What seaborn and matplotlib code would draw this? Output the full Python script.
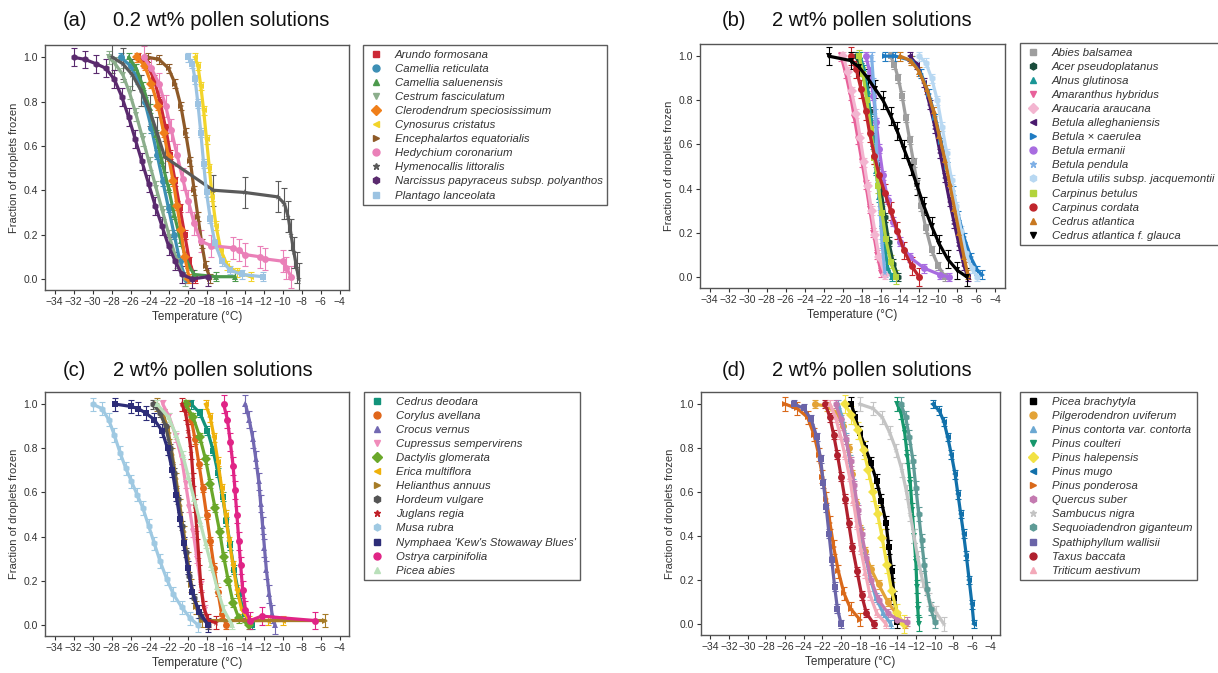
import pandas as pd
import matplotlib
matplotlib.use("Agg")
import matplotlib.pyplot as plt
from matplotlib.lines import Line2D
import seaborn as sns

# ---- panel (a): 0.2 wt% ----
a_names = ["Arundo formosana", "Camellia reticulata", "Camellia saluenensis",
           "Cestrum fasciculatum", "Clerodendrum speciosissimum", "Cynosurus cristatus",
           "Encephalartos equatorialis", "Hedychium coronarium", "Hymenocallis littoralis",
           "Narcissus papyraceus subsp. polyanthos", "Plantago lanceolata"]
a_temps = [
    [-25.2, -24.3, -23.5, -22.9, -22.3, -21.8, -21.3, -20.8, -20.3, -19.8, -19.2],
    [-27.0, -26.0, -25.2, -24.5, -23.8, -23.2, -22.6, -22.0, -21.4, -20.8, -20.2],
    [-26.2, -25.4, -24.7, -24.0, -23.3, -22.7, -22.0, -21.4, -20.7, -20.0, -19.3, -17.0, -15.0],
    [-28.3, -27.6, -26.8, -26.1, -25.4, -24.7, -24.0, -23.3, -22.6, -21.9, -21.1, -20.3],
    [-25.3, -24.5, -23.8, -23.1, -22.5, -22.0, -21.5, -21.1, -20.7, -20.3, -19.8],
    [-19.2, -18.9, -18.6, -18.3, -18.0, -17.7, -17.4, -17.0, -16.5, -15.8, -14.8, -13.3],
    [-24.2, -23.0, -22.0, -21.3, -20.7, -20.2, -19.7, -19.3, -18.9, -18.5, -18.1, -17.6],
    [-24.6, -23.8, -23.0, -22.3, -21.7, -21.1, -20.5, -19.9, -19.3, -18.6, -17.5, -15.2,
     -14.6, -14.0, -12.4, -11.8, -10.0, -9.6, -9.1],
    [-27.9, -26.8, -25.8, -24.9, -24.0, -23.2, -22.4, -17.3, -14.0, -10.5, -9.8, -9.4,
     -9.1, -8.8, -8.5, -8.3],
    [-32.0, -30.8, -29.6, -28.6, -27.7, -26.9, -26.2, -25.5, -24.8, -24.1, -23.4, -22.7,
     -22.0, -21.3, -20.6, -19.5, -17.8],
    [-19.9, -19.5, -19.2, -18.9, -18.6, -18.3, -18.0, -17.6, -17.1, -16.4, -15.5, -14.3, -12.1],
]
a_fracs = [
    [1.0, 0.97, 0.9, 0.8, 0.68, 0.56, 0.44, 0.32, 0.2, 0.08, 0.0],
    [1.0, 0.96, 0.9, 0.8, 0.68, 0.56, 0.44, 0.32, 0.2, 0.08, 0.0],
    [1.0, 0.95, 0.87, 0.77, 0.65, 0.53, 0.41, 0.29, 0.17, 0.07, 0.02, 0.01, 0.01],
    [1.0, 0.97, 0.92, 0.84, 0.74, 0.63, 0.52, 0.41, 0.3, 0.19, 0.08, 0.0],
    [1.0, 0.96, 0.88, 0.78, 0.66, 0.55, 0.44, 0.33, 0.22, 0.1, 0.0],
    [1.0, 0.96, 0.87, 0.76, 0.63, 0.5, 0.37, 0.24, 0.13, 0.06, 0.03, 0.01],
    [1.0, 0.99, 0.95, 0.88, 0.78, 0.66, 0.53, 0.4, 0.28, 0.16, 0.06, 0.0],
    [1.0, 0.95, 0.88, 0.78, 0.67, 0.56, 0.45, 0.35, 0.25, 0.17, 0.15, 0.14, 0.13, 0.11,
     0.1, 0.09, 0.08, 0.05, 0.01],
    [1.0, 0.97, 0.92, 0.85, 0.76, 0.66, 0.55, 0.4, 0.39, 0.37, 0.34, 0.28, 0.2, 0.12, 0.05, 0.0],
    [1.0, 0.99, 0.97, 0.95, 0.9, 0.82, 0.73, 0.63, 0.53, 0.43, 0.33, 0.24, 0.15, 0.08,
     0.02, 0.0, 0.01],
    [1.0, 0.97, 0.9, 0.79, 0.66, 0.52, 0.39, 0.27, 0.16, 0.08, 0.04, 0.02, 0.01],
]
a_err = [0.02, 0.02, 0.02, 0.03, 0.02, 0.02, 0.02, 0.05, 0.07, 0.04, 0.02]

# ---- panel (b): 2 wt% ----
b_names = ["Abies balsamea", "Acer pseudoplatanus", "Alnus glutinosa", "Amaranthus hybridus",
           "Araucaria araucana", "Betula alleghaniensis", "Betula × caerulea", "Betula ermanii",
           "Betula pendula", "Betula utilis subsp. jacquemontii", "Carpinus betulus",
           "Carpinus cordata", "Cedrus atlantica", "Cedrus atlantica f. glauca"]
b_temps = [
    [-15.0, -14.6, -14.2, -13.8, -13.4, -13.0, -12.6, -12.2, -11.8, -11.3, -10.7, -10.0, -9.3],
    [-18.6, -18.1, -17.6, -17.2, -16.8, -16.4, -16.0, -15.6, -15.2, -14.7, -14.2],
    [-18.2, -17.8, -17.4, -17.1, -16.8, -16.5, -16.2, -15.9, -15.6, -15.3, -14.9],
    [-20.2, -19.7, -19.2, -18.8, -18.4, -18.0, -17.6, -17.2, -16.8, -16.4, -16.0],
    [-20.0, -19.5, -19.1, -18.6, -18.2, -17.8, -17.4, -17.0, -16.6, -16.2, -15.6],
    [-13.0, -12.2, -11.5, -10.9, -10.3, -9.8, -9.3, -8.8, -8.3, -7.8, -7.3, -6.9],
    [-15.6, -14.5, -12.8, -11.8, -11.0, -10.3, -9.7, -9.1, -8.5, -7.9, -7.3, -6.6, -5.9, -5.4],
    [-17.6, -17.2, -16.8, -16.5, -16.2, -15.8, -15.3, -14.7, -14.0, -13.0, -11.5, -9.8, -8.9],
    [-17.0, -16.8, -16.6, -16.5, -16.3, -16.1, -15.9, -15.6],
    [-12.0, -11.3, -10.7, -10.1, -9.6, -9.1, -8.6, -8.1, -7.6, -7.1, -6.5, -5.9],
    [-18.3, -17.9, -17.5, -17.1, -16.7, -16.3, -15.9, -15.5, -15.0, -14.4],
    [-19.2, -18.6, -18.1, -17.6, -17.2, -16.7, -16.2, -15.6, -15.0, -14.3, -13.6, -12.8, -12.0],
    [-14.0, -12.9, -12.0, -11.2, -10.5, -9.9, -9.3, -8.8, -8.3, -7.8, -7.3, -6.9],
    [-21.5, -19.2, -18.3, -17.4, -16.6, -15.8, -15.0, -14.3, -13.6, -12.9, -12.2, -11.5,
     -10.7, -9.9, -9.0, -8.0, -7.0],
]
b_fracs = [
    [1.0, 0.96, 0.9, 0.82, 0.72, 0.62, 0.52, 0.42, 0.32, 0.22, 0.12, 0.05, 0.0],
    [1.0, 0.95, 0.86, 0.75, 0.63, 0.51, 0.39, 0.27, 0.16, 0.06, 0.0],
    [1.0, 0.94, 0.84, 0.72, 0.6, 0.48, 0.36, 0.24, 0.13, 0.04, 0.0],
    [1.0, 0.92, 0.82, 0.72, 0.62, 0.52, 0.42, 0.31, 0.2, 0.1, 0.02],
    [1.0, 0.93, 0.84, 0.74, 0.63, 0.52, 0.41, 0.3, 0.19, 0.09, 0.01],
    [1.0, 0.96, 0.88, 0.78, 0.67, 0.56, 0.45, 0.34, 0.24, 0.14, 0.05, 0.0],
    [1.0, 1.0, 0.98, 0.92, 0.83, 0.72, 0.61, 0.5, 0.39, 0.28, 0.18, 0.09, 0.03, 0.01],
    [1.0, 0.93, 0.82, 0.7, 0.58, 0.46, 0.35, 0.25, 0.16, 0.09, 0.04, 0.01, 0.0],
    [1.0, 0.88, 0.74, 0.6, 0.45, 0.3, 0.15, 0.02],
    [1.0, 0.97, 0.9, 0.8, 0.68, 0.56, 0.44, 0.32, 0.21, 0.11, 0.04, 0.0],
    [1.0, 0.92, 0.8, 0.67, 0.54, 0.41, 0.29, 0.17, 0.07, 0.0],
    [1.0, 0.94, 0.85, 0.75, 0.65, 0.55, 0.46, 0.38, 0.3, 0.21, 0.12, 0.05, 0.0],
    [1.0, 0.98, 0.93, 0.85, 0.75, 0.64, 0.53, 0.42, 0.31, 0.2, 0.09, 0.01],
    [1.0, 0.98, 0.95, 0.9, 0.85, 0.8, 0.73, 0.66, 0.58, 0.5, 0.41, 0.32, 0.23, 0.15, 0.08,
     0.03, 0.0],
]
b_err = [0.02, 0.02, 0.02, 0.02, 0.02, 0.02, 0.02, 0.02, 0.02, 0.02, 0.03, 0.04, 0.02, 0.04]

# ---- panel (c): 2 wt% ----
c_names = ["Cedrus deodara", "Corylus avellana", "Crocus vernus", "Cupressus sempervirens",
           "Dactylis glomerata", "Erica multiflora", "Helianthus annuus", "Hordeum vulgare",
           "Juglans regia", "Musa rubra", "Nymphaea 'Kew's Stowaway Blues'",
           "Ostrya carpinifolia", "Picea abies"]
c_temps = [
    [-19.6, -18.7, -17.9, -17.3, -16.8, -16.3, -15.9, -15.5, -15.1, -14.6, -14.0, -13.2],
    [-20.1, -19.6, -19.2, -18.8, -18.4, -18.0, -17.6, -17.2, -16.8, -16.4, -15.9],
    [-13.9, -13.5, -13.1, -12.8, -12.5, -12.3, -12.1, -11.9, -11.7, -11.4, -11.1, -10.8],
    [-22.6, -21.9, -21.2, -20.6, -20.2, -19.8, -19.4, -19.0, -18.6, -18.2, -17.7],
    [-20.2, -19.4, -18.7, -18.1, -17.6, -17.1, -16.6, -16.2, -15.7, -15.2, -14.6, -13.5],
    [-18.1, -17.6, -17.2, -16.8, -16.4, -16.0, -15.6, -15.2, -14.8, -14.3, -13.5, -11.5, -10.0],
    [-23.2, -22.5, -22.0, -21.6, -21.2, -20.8, -20.4, -20.0, -19.6, -19.1, -18.5, -5.5],
    [-23.6, -22.9, -22.3, -21.8, -21.4, -21.0, -20.6, -20.2, -19.8, -19.3, -18.6, -17.8],
    [-20.6, -20.2, -19.9, -19.6, -19.4, -19.2, -19.0, -18.8, -18.6, -18.3, -17.8, -17.0],
    [-30.0, -29.0, -28.3, -27.7, -27.1, -26.5, -25.9, -25.3, -24.7, -24.1, -23.5, -22.9,
     -22.2, -21.5, -20.6, -19.7, -18.9],
    [-27.6, -26.0, -25.2, -24.4, -23.5, -22.7, -22.1, -21.6, -21.2, -20.8, -20.4, -20.0,
     -19.5, -18.8, -17.8],
    [-16.2, -15.8, -15.5, -15.2, -15.0, -14.8, -14.6, -14.4, -14.2, -13.9, -13.4, -12.2, -6.6],
    [-23.2, -22.0, -21.2, -20.5, -19.9, -19.3, -18.7, -18.1, -17.5, -16.9, -16.2, -15.3],
]
c_fracs = [
    [1.0, 0.96, 0.88, 0.79, 0.69, 0.58, 0.47, 0.36, 0.25, 0.14, 0.05, 0.0],
    [1.0, 0.93, 0.84, 0.73, 0.62, 0.5, 0.38, 0.26, 0.15, 0.05, 0.0],
    [1.0, 0.93, 0.84, 0.75, 0.65, 0.55, 0.45, 0.35, 0.25, 0.14, 0.05, 0.0],
    [1.0, 0.94, 0.85, 0.75, 0.64, 0.53, 0.42, 0.3, 0.18, 0.07, 0.0],
    [1.0, 0.94, 0.85, 0.75, 0.64, 0.53, 0.42, 0.31, 0.2, 0.1, 0.03, 0.0],
    [1.0, 0.94, 0.85, 0.74, 0.62, 0.5, 0.38, 0.27, 0.16, 0.07, 0.02, 0.02, 0.02],
    [1.0, 0.95, 0.87, 0.77, 0.66, 0.54, 0.42, 0.3, 0.18, 0.08, 0.02, 0.02],
    [1.0, 0.96, 0.9, 0.8, 0.69, 0.57, 0.45, 0.33, 0.22, 0.12, 0.04, 0.0],
    [1.0, 0.96, 0.88, 0.78, 0.66, 0.54, 0.42, 0.3, 0.18, 0.08, 0.02, 0.01],
    [1.0, 0.98, 0.93, 0.86, 0.78, 0.71, 0.65, 0.59, 0.53, 0.45, 0.37, 0.29, 0.21, 0.14,
     0.08, 0.03, 0.0],
    [1.0, 0.99, 0.98, 0.96, 0.93, 0.88, 0.8, 0.7, 0.59, 0.48, 0.37, 0.26, 0.15, 0.06, 0.0],
    [1.0, 0.93, 0.83, 0.72, 0.61, 0.5, 0.38, 0.27, 0.16, 0.07, 0.02, 0.04, 0.02],
    [1.0, 0.94, 0.86, 0.77, 0.67, 0.57, 0.47, 0.37, 0.27, 0.17, 0.07, 0.0],
]
c_err = [0.02, 0.02, 0.04, 0.02, 0.02, 0.02, 0.03, 0.02, 0.03, 0.03, 0.03, 0.04, 0.02]

# ---- panel (d): 2 wt% ----
d_names = ["Picea brachytyla", "Pilgerodendron uviferum", "Pinus contorta var. contorta",
           "Pinus coulteri", "Pinus halepensis", "Pinus mugo", "Pinus ponderosa",
           "Quercus suber", "Sambucus nigra", "Sequoiadendron giganteum",
           "Spathiphyllum wallisii", "Taxus baccata", "Triticum aestivum"]
d_temps = [
    [-18.9, -18.5, -18.0, -17.4, -16.8, -16.2, -15.7, -15.2, -14.9, -14.6, -14.3, -14.0],
    [-22.8, -21.5, -20.5, -19.8, -19.2, -18.8, -18.4, -18.0, -17.5, -16.8, -16.0, -15.0,
     -14.0, -13.2],
    [-20.3, -19.9, -19.5, -19.1, -18.7, -18.3, -17.9, -17.4, -16.9, -16.3, -15.5, -14.7],
    [-14.0, -13.6, -13.2, -12.9, -12.6, -12.4, -12.2, -12.0, -11.9, -11.8, -11.7],
    [-19.6, -18.9, -18.2, -17.6, -17.1, -16.6, -16.1, -15.6, -15.1, -14.6, -14.0, -13.3],
    [-10.2, -9.5, -9.0, -8.6, -8.2, -7.8, -7.5, -7.2, -6.9, -6.6, -6.3, -6.0, -5.8],
    [-26.0, -24.7, -23.6, -22.9, -22.4, -22.0, -21.6, -21.2, -20.8, -20.3, -19.7, -19.0, -18.0],
    [-20.6, -20.0, -19.5, -19.0, -18.6, -18.2, -17.8, -17.3, -16.8, -16.0, -15.0, -14.0, -13.0],
    [-18.0, -16.6, -15.6, -14.8, -14.1, -13.5, -13.0, -12.6, -12.2, -11.8, -11.3, -10.6,
     -9.8, -9.0],
    [-13.6, -13.1, -12.7, -12.3, -12.0, -11.7, -11.4, -11.1, -10.8, -10.4, -10.0],
    [-25.0, -24.0, -23.2, -22.6, -22.2, -21.9, -21.6, -21.3, -21.0, -20.7, -20.4, -20.0],
    [-21.7, -21.2, -20.8, -20.4, -20.0, -19.6, -19.2, -18.8, -18.3, -17.8, -17.3, -16.5],
    [-21.2, -20.6, -20.1, -19.6, -19.1, -18.7, -18.3, -17.9, -17.4, -16.9, -16.2, -15.2],
]
d_fracs = [
    [1.0, 0.94, 0.87, 0.8, 0.73, 0.65, 0.56, 0.46, 0.35, 0.24, 0.12, 0.01],
    [1.0, 0.99, 0.96, 0.9, 0.8, 0.68, 0.55, 0.43, 0.33, 0.25, 0.18, 0.1, 0.04, 0.0],
    [1.0, 0.94, 0.85, 0.75, 0.64, 0.53, 0.42, 0.31, 0.21, 0.12, 0.05, 0.0],
    [1.0, 0.96, 0.87, 0.76, 0.64, 0.52, 0.4, 0.28, 0.17, 0.07, 0.0],
    [1.0, 0.95, 0.88, 0.79, 0.7, 0.6, 0.5, 0.39, 0.27, 0.15, 0.05, 0.0],
    [1.0, 0.97, 0.92, 0.85, 0.77, 0.68, 0.59, 0.5, 0.41, 0.31, 0.2, 0.09, 0.0],
    [1.0, 0.98, 0.94, 0.86, 0.77, 0.67, 0.57, 0.46, 0.35, 0.24, 0.14, 0.07, 0.02],
    [1.0, 0.93, 0.84, 0.74, 0.63, 0.52, 0.41, 0.3, 0.2, 0.11, 0.05, 0.02, 0.01],
    [1.0, 0.98, 0.94, 0.87, 0.79, 0.7, 0.6, 0.5, 0.4, 0.3, 0.2, 0.11, 0.05, 0.0],
    [1.0, 0.94, 0.85, 0.74, 0.62, 0.5, 0.38, 0.27, 0.16, 0.07, 0.01],
    [1.0, 0.98, 0.93, 0.85, 0.75, 0.64, 0.53, 0.41, 0.29, 0.17, 0.07, 0.0],
    [1.0, 0.94, 0.86, 0.77, 0.67, 0.57, 0.46, 0.35, 0.24, 0.13, 0.05, 0.0],
    [1.0, 0.94, 0.86, 0.77, 0.67, 0.56, 0.45, 0.34, 0.23, 0.13, 0.05, 0.0],
]
d_err = [0.03, 0.02, 0.02, 0.03, 0.04, 0.02, 0.03, 0.02, 0.03, 0.03, 0.02, 0.02, 0.02]

# colours / markers per panel (same order as names)
a_colors = ['#cc2936', '#3d8fb5', '#4c9a4c', '#8cae8c', '#f07f1a', '#f2d42a', '#8e5a28',
            '#ea80b8', '#5a5a5a', '#5a2a6e', '#9cc3e2']
a_markers = ['s', 'o', '^', 'v', 'D', '<', '>', 'o', '*', 'h', 's']
b_colors = ['#9e9e9e', '#1a4d3c', '#1a9696', '#e8619a', '#f3b5d0', '#4a1a6e', '#1f7bc2',
            '#a86ce0', '#7fb0e6', '#b8d8f2', '#b3d43c', '#c0252c', '#c87820', '#000000']
b_markers = ['s', 'h', '^', 'v', 'D', '<', '>', 'o', '*', 'h', 's', 'o', '^', 'v']
c_colors = ['#12937a', '#e0661a', '#7268b2', '#f08cba', '#6aa82a', '#efb10a', '#a67c28',
            '#545454', '#c02028', '#9fc9e2', '#2d2d78', '#e02486', '#b9e0ba']
c_markers = ['s', 'o', '^', 'v', 'D', '<', '>', 'h', '*', 'h', 's', 'o', '^']
d_colors = ['#000000', '#e3a336', '#6ba8d2', '#16976c', '#f2e244', '#1170aa', '#d9691a',
            '#c47ab0', '#c4c4c4', '#5e9b96', '#6a64a8', '#b0202e', '#f3a9b9']
d_markers = ['s', 'o', '^', 'v', 'D', '<', '>', 'h', '*', 'h', 's', 'o', '^']

sns.set_theme(style='white')
plt.rcParams['font.family'] = ['Liberation Sans', 'DejaVu Sans']
plt.rcParams['axes.unicode_minus'] = True

fig = plt.figure(figsize=(12.18, 6.73), dpi=100)


def draw_panel(rect, names, temps, fracs, errs, colors, markers, tag, title, title_xy,
               leg_xy):
    ax = fig.add_axes(rect)
    df = pd.DataFrame({
        'species': [n for n, t in zip(names, temps) for _ in t],
        'temp': [v for t in temps for v in t],
        'frac': [v for f in fracs for v in f],
    })
    for t, f, e, c in zip(temps, fracs, errs, colors):
        ax.errorbar(t, f, yerr=e, fmt='none', ecolor=c, elinewidth=0.8,
                    capsize=2, capthick=0.8)
    sns.lineplot(data=df, x='temp', y='frac', hue='species', style='species',
                 hue_order=names, style_order=names,
                 palette=dict(zip(names, colors)), markers=dict(zip(names, markers)),
                 dashes=False, sort=False, estimator=None, legend=False, ax=ax,
                 lw=2.3, markersize=5, markeredgewidth=0)

    ax.set_xlim(-35, -3)
    ax.set_ylim(-0.05, 1.055)
    ax.set_xticks(range(-34, -3, 2))
    ax.set_yticks([0.0, 0.2, 0.4, 0.6, 0.8, 1.0])
    ax.set_yticklabels(['0.0', '0.2', '0.4', '0.6', '0.8', '1.0'])
    ax.tick_params(axis='both', direction='out', length=3, width=0.8, labelsize=7.5,
                   colors='#333333', bottom=True, left=True, pad=2)
    ax.set_xlabel('Temperature (°C)', fontsize=8.5, color='#333333', labelpad=3)
    ax.set_ylabel('Fraction of droplets frozen', fontsize=8, color='#333333', labelpad=3)
    for s in ax.spines.values():
        s.set_color('#555555')
        s.set_linewidth(1.0)

    fig.text(title_xy[0], title_xy[1], tag, fontsize=14.5, va='center', color='#111111')
    fig.text(title_xy[0] + 50 / 1218, title_xy[1], title, fontsize=14.5, va='center',
             color='#111111')

    handles = [Line2D([], [], ls='none', marker=m, color=c, mec=c, ms=5)
               for m, c in zip(markers, colors)]
    leg = fig.legend(handles, names, loc='upper left', bbox_to_anchor=leg_xy,
                     frameon=True, fancybox=False, edgecolor='#333333',
                     prop={'style': 'italic', 'size': 8.2}, labelspacing=0.36,
                     handletextpad=1.0, borderpad=0.4, handlelength=1.4,
                     borderaxespad=0)
    leg.get_frame().set_linewidth(1.0)
    for txt in leg.get_texts():
        txt.set_color('#333333')
    return ax


draw_panel([45 / 1218, 1 - 290 / 673, 304 / 1218, 245 / 673], a_names, a_temps, a_fracs,
           a_err, a_colors, a_markers, '(a)', '0.2 wt% pollen solutions',
           (63 / 1218, 1 - 21 / 673), (363 / 1218, 1 - 45 / 673))
draw_panel([700 / 1218, 1 - 288 / 673, 305 / 1218, 244 / 673], b_names, b_temps, b_fracs,
           b_err, b_colors, b_markers, '(b)', '2 wt% pollen solutions',
           (722 / 1218, 1 - 21 / 673), (1020 / 1218, 1 - 43 / 673))
draw_panel([45 / 1218, 1 - 636 / 673, 304 / 1218, 244 / 673], c_names, c_temps, c_fracs,
           c_err, c_colors, c_markers, '(c)', '2 wt% pollen solutions',
           (63 / 1218, 1 - 370 / 673), (364 / 1218, 1 - 392 / 673))
draw_panel([701 / 1218, 1 - 635 / 673, 299 / 1218, 243 / 673], d_names, d_temps, d_fracs,
           d_err, d_colors, d_markers, '(d)', '2 wt% pollen solutions',
           (722 / 1218, 1 - 370 / 673), (1020 / 1218, 1 - 392 / 673))

fig.savefig('out.png', dpi=100)
